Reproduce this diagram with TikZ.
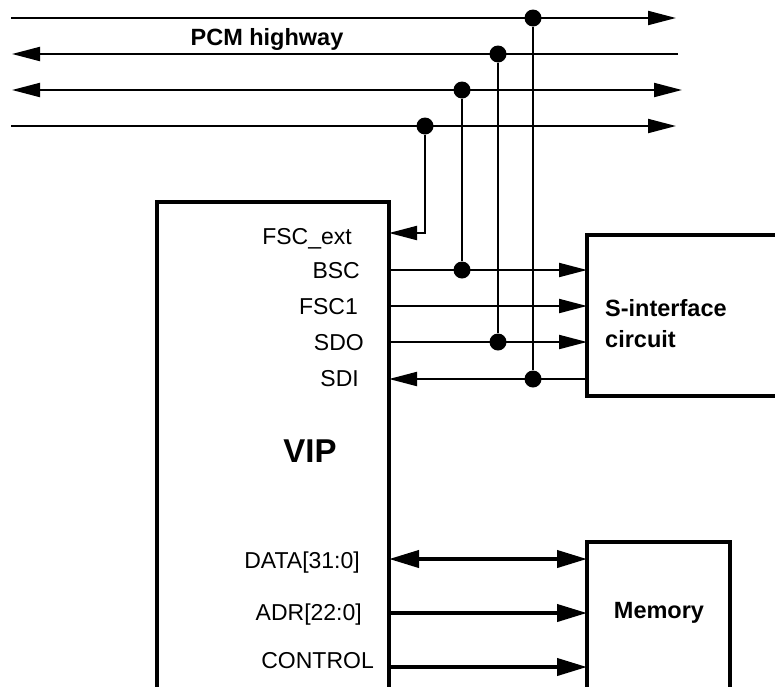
\documentclass[tikz,border=0pt]{standalone}
\usepackage{fontspec}
\setmainfont{Liberation Sans}
\usetikzlibrary{arrows.meta}

\begin{document}
\begin{tikzpicture}[x=1pt, y=-1pt,
    >={Triangle[length=28pt, width=14pt]},
    wire/.style={line width=2pt},
    bus/.style={line width=4pt, >={Triangle[length=30pt, width=17pt]}},
    dot/.style={circle, fill, inner sep=0pt, minimum size=17pt},
    block/.style={draw, line width=4pt, inner sep=0pt, outer sep=0pt, anchor=north west},
    port/.style={anchor=base east, inner sep=0pt, font=\fontsize{23}{27}\selectfont},
    title/.style={inner sep=0pt, font=\fontsize{23.5}{31}\selectfont\bfseries}]
    \useasboundingbox (0,0) rectangle (775,686);
    \clip (0,0) rectangle (775,686);
    % blocks
    \node[block, minimum width=232pt, minimum height=600pt] (vip) at (157,202) {};
    \node[block, minimum width=300pt, minimum height=161pt] (sif) at (587,235) {};
    \node[block, minimum width=143pt, minimum height=200pt] (mem) at (587,542) {};
    \node[title, anchor=base, font=\fontsize{33}{33}\selectfont\bfseries] (viplabel) at (310,462) {VIP};
    \node[title, anchor=west, align=left] (siflabel) at (605,324) {S-interface\\circuit};
    \node[title, anchor=base] (memlabel) at (659,618) {Memory};
    % PCM highway
    \coordinate (h1w) at (11,18);  \coordinate (h1e) at (676,18);
    \coordinate (h2w) at (12,54);  \coordinate (h2e) at (678,54);
    \coordinate (h3w) at (12,90);  \coordinate (h3e) at (682,90);
    \coordinate (h4w) at (11,126); \coordinate (h4e) at (676,126);
    \draw[wire, ->] (h1w) -- (h1e);
    \draw[wire, ->] (h2e) -- (h2w);
    \draw[wire, <->] (h3w) -- (h3e);
    \draw[wire, ->] (h4w) -- (h4e);
    \node[title, anchor=base] (pcm) at (267,45) {PCM highway};
    \node[dot] (t1) at (533,18) {};
    \node[dot] (t2) at (498,54) {};
    \node[dot] (t3) at (462,90) {};
    \node[dot] (t4) at (425,126) {};
    % VIP ports
    \node[port] (lfsc) at (352,244) {FSC\_ext};
    \node[port] (lbsc) at (360,278) {BSC};
    \node[port] (lfsc1) at (358,314) {FSC1};
    \node[port] (lsdo) at (364,350) {SDO};
    \node[port] (lsdi) at (359,386) {SDI};
    \node[port] (ldata) at (360,568) {DATA[31:0]};
    \node[port] (ladr) at (362,620) {ADR[22:0]};
    \node[port] (lctrl) at (374,668) {CONTROL};
    \coordinate (pfsc) at (vip.north east |- 0,233);
    \coordinate (pbsc) at (vip.north east |- 0,270);
    \coordinate (pfsc1) at (vip.north east |- 0,306);
    \coordinate (psdo) at (vip.north east |- 0,342);
    \coordinate (psdi) at (vip.north east |- 0,379);
    \coordinate (pdata) at (vip.north east |- 0,559);
    \coordinate (padr) at (vip.north east |- 0,613);
    \coordinate (pctrl) at (vip.north east |- 0,667);
    % serial links
    \node[dot] (jbsc) at (462,270) {};
    \node[dot] (jsdo) at (498,342) {};
    \node[dot] (jsdi) at (533,379) {};
    \draw[wire, ->] (t4) |- (pfsc);
    \draw[wire] (t3) -- (jbsc);
    \draw[wire] (t2) -- (jsdo);
    \draw[wire] (t1) -- (jsdi);
    \draw[wire, ->] (pbsc) -- (pbsc -| sif.west);
    \draw[wire, ->] (pfsc1) -- (pfsc1 -| sif.west);
    \draw[wire, ->] (psdo) -- (psdo -| sif.west);
    \draw[wire, ->] (psdi -| sif.west) -- (psdi);
    % memory bus
    \draw[bus, <->] (pdata) -- (pdata -| mem.west);
    \draw[bus, ->] (padr) -- (padr -| mem.west);
    \draw[bus, ->] (pctrl) -- (pctrl -| mem.west);
\end{tikzpicture}
\end{document}
